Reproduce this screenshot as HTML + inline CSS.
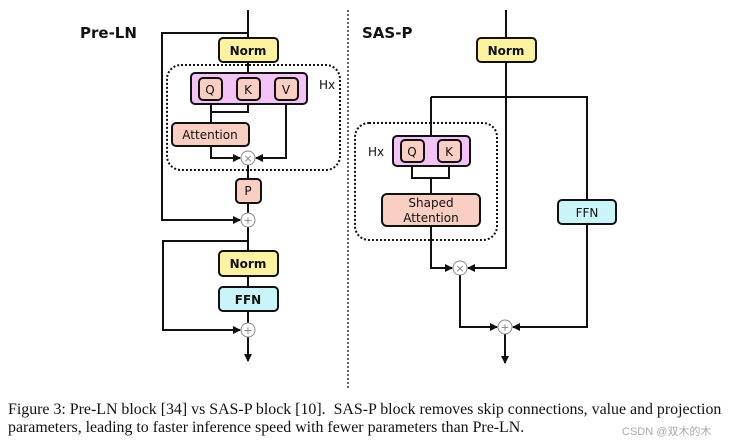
<!DOCTYPE html>
<html><head><meta charset="utf-8"><style>
html,body{margin:0;padding:0;background:#fff;width:732px;height:444px;overflow:hidden}
svg text{font-family:"DejaVu Sans","Liberation Sans",sans-serif}
.cap{position:absolute;left:8px;font-family:"Liberation Serif",serif;font-size:15.9px;color:#111;white-space:nowrap}
</style></head><body>
<svg width="732" height="444" style="position:absolute;left:0;top:0">
<defs><marker id="a" markerWidth="8" markerHeight="8" refX="7" refY="4" orient="auto" markerUnits="userSpaceOnUse"><path d="M0,0 L8,4 L0,8 z" fill="#111"/></marker></defs>
<g stroke="#111" stroke-width="2" fill="none">
<path d="M248,10 V38"/>
<path d="M248,33 H162 V220 H240" marker-end="url(#a)"/>
<path d="M248,62 V73"/>
<path d="M211,100 V123"/>
<path d="M248,100 V112 H211"/>
<path d="M211,146 V158 H240" marker-end="url(#a)"/>
<path d="M286,100 V158 H256" marker-end="url(#a)"/>
<path d="M248,165 V178"/>
<path d="M248,203 V213"/>
<path d="M248,227 V251"/>
<path d="M248,241 H163 V330 H240" marker-end="url(#a)"/>
<path d="M248,276 V287"/>
<path d="M248,311 V323"/>
<path d="M248,337 V361" marker-end="url(#a)"/>
<path d="M506,10 V38"/>
<path d="M506,62 V268 H468" marker-end="url(#a)"/>
<path d="M431,97 H587 V200"/>
<path d="M431,97 V136"/>
<path d="M412,160 V178 H449 V160"/>
<path d="M431,178 V194"/>
<path d="M431,226 V268 H452" marker-end="url(#a)"/>
<path d="M460,275 V327 H497" marker-end="url(#a)"/>
<path d="M587,224 V327 H513" marker-end="url(#a)"/>
<path d="M505,334 V363" marker-end="url(#a)"/>
</g>
<rect x="167" y="65" width="173" height="105" rx="14" fill="none" stroke="#111" stroke-width="2" stroke-dasharray="2,2"/>
<rect x="355" y="123" width="142" height="117" rx="14" fill="none" stroke="#111" stroke-width="2" stroke-dasharray="2,2"/>
<line x1="348" y1="10" x2="348" y2="388" stroke="#333" stroke-width="1.5" stroke-dasharray="2,2"/>
<g stroke="#111" stroke-width="2">
<rect x="219" y="38" width="59" height="24" rx="4" fill="#fcf2a0"/>
<rect x="191" y="73" width="116" height="31" rx="4" fill="#f2c3f4"/>
<rect x="199" y="78" width="23" height="22" rx="4" fill="#f9cfc3"/>
<rect x="237" y="78" width="23" height="22" rx="4" fill="#f9cfc3"/>
<rect x="275" y="78" width="23" height="22" rx="4" fill="#f9cfc3"/>
<rect x="172" y="123" width="77" height="23" rx="4" fill="#f9cfc3"/>
<rect x="236" y="179" width="25" height="24" rx="4" fill="#f9cfc3"/>
<rect x="219" y="251" width="59" height="25" rx="4" fill="#fcf2a0"/>
<rect x="219" y="287" width="59" height="24" rx="4" fill="#c9f5f8"/>
<rect x="477" y="38" width="59" height="24" rx="4" fill="#fcf2a0"/>
<rect x="393" y="136" width="77" height="30" rx="4" fill="#f2c3f4"/>
<rect x="401" y="140" width="23" height="22" rx="4" fill="#f9cfc3"/>
<rect x="438" y="140" width="23" height="22" rx="4" fill="#f9cfc3"/>
<rect x="382" y="194" width="98" height="32" rx="5" fill="#f9cfc3"/>
<rect x="558" y="200" width="58" height="24" rx="4" fill="#c9f5f8"/>
</g>
<g fill="#fff" stroke="#888" stroke-width="1">
<circle cx="248" cy="158" r="7"/><circle cx="248" cy="220" r="7"/><circle cx="248" cy="330" r="7"/>
<circle cx="460" cy="268" r="7"/><circle cx="505" cy="327" r="7"/>
</g>
<g fill="#888" font-size="11" text-anchor="middle">
<text x="248" y="162">×</text><text x="248" y="224">+</text><text x="248" y="334">+</text>
<text x="460" y="272">×</text><text x="505" y="331">+</text>
</g>
<g fill="#111" font-size="12" text-anchor="middle">
<text x="248" y="55" font-weight="bold">Norm</text>
<text x="210" y="94">Q</text><text x="248" y="94">K</text><text x="286" y="94">V</text>
<text x="210" y="139">Attention</text>
<text x="248" y="195">P</text>
<text x="248" y="268" font-weight="bold">Norm</text>
<text x="248" y="304" font-weight="bold">FFN</text>
<text x="506" y="55" font-weight="bold">Norm</text>
<text x="412" y="156">Q</text><text x="449" y="156">K</text>
<text x="431" y="207">Shaped</text><text x="431" y="222">Attention</text>
<text x="587" y="217">FFN</text>
<text x="327" y="89">Hx</text><text x="376" y="156">Hx</text>
</g>
<text x="80" y="38" font-size="15" font-weight="bold" fill="#111">Pre-LN</text>
<text x="362" y="38" font-size="15" font-weight="bold" fill="#111">SAS-P</text>
</svg>
<div class="cap" style="top:401px">Figure 3: Pre-LN block [34] vs SAS-P block [10]. &nbsp;SAS-P block removes skip connections, value and projection</div>
<div class="cap" style="top:419px">parameters, leading to faster inference speed with fewer parameters than Pre-LN.</div>
<div style="position:absolute;left:622px;top:423px;font-family:'Liberation Sans','Noto Sans CJK SC',sans-serif;font-size:11px;color:#aaa">CSDN @双木的木</div>
</body></html>
